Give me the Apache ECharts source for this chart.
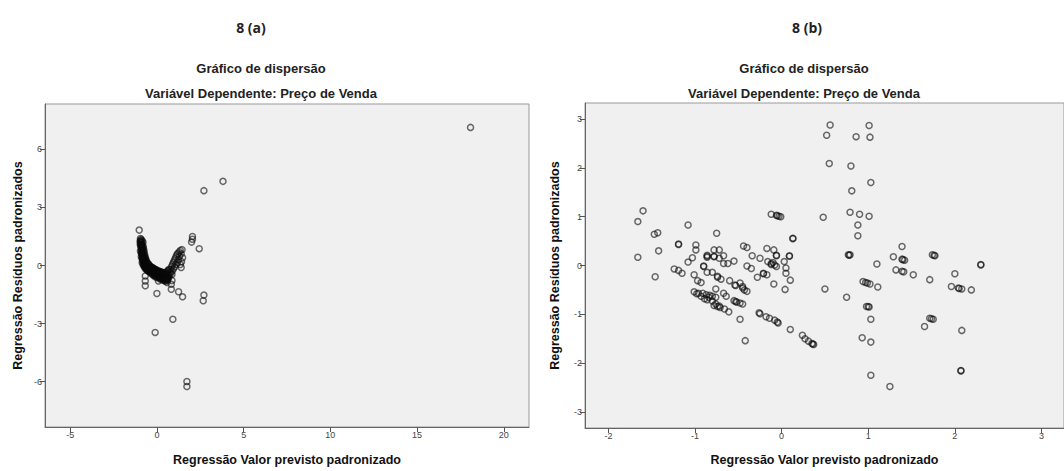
<!DOCTYPE html>
<html>
<head>
<meta charset="utf-8">
<script src="https://cdn.jsdelivr.net/npm/echarts@6/dist/echarts.min.js"></script>
<style>html,body{margin:0;padding:0;background:#fff;}#c{width:1064px;height:471px;}</style>
</head>
<body>
<div id="c"></div>
<script>
// ---- Panel (a) data: [predicted standardized value, standardized residual]
const pointsA = [
[-0.95,1.30],[-0.92,1.25],[-0.90,1.35],[-0.93,1.18],[-0.88,1.10],[-0.90,1.02],[-0.86,0.95],[-0.88,0.88],[-0.84,0.80],[-0.86,0.72],
[-0.82,0.66],[-0.80,0.58],[-0.84,0.52],[-0.78,0.48],[-0.76,0.40],[-0.80,0.35],[-0.72,0.30],[-0.74,0.22],[-0.68,0.18],[-0.70,0.10],
[-0.64,0.08],[-0.60,0.02],[-0.66,-0.02],[-0.56,-0.05],[-0.50,-0.08],[-0.54,-0.14],[-0.45,-0.12],[-0.40,-0.18],[-0.42,-0.25],[-0.35,-0.22],
[-0.30,-0.28],[-0.25,-0.25],[-0.22,-0.32],[-0.15,-0.30],[-0.10,-0.38],[-0.05,-0.35],[0.00,-0.42],[0.05,-0.40],[0.10,-0.48],[0.15,-0.44],
[0.20,-0.52],[0.25,-0.48],[0.30,-0.55],[0.35,-0.50],[0.40,-0.60],[0.45,-0.56],[0.50,-0.62],[0.55,-0.58],[0.60,-0.66],[0.65,-0.55],
[0.70,-0.48],[0.62,-0.72],[0.55,-0.80],[0.45,-0.76],[0.35,-0.70],[0.25,-0.66],[0.15,-0.60],[0.05,-0.58],[-0.05,-0.52],[-0.15,-0.45],
[-0.25,-0.40],[-0.35,-0.35],[-0.45,-0.28],[-0.55,-0.20],[-0.62,-0.12],[-0.70,-0.05],[-0.75,0.05],[-0.78,0.15],[-0.82,0.28],[-0.85,0.42],
[-0.88,0.60],[-0.90,0.78],[-0.92,0.95],[-0.95,1.10],[-0.97,1.22],[-0.85,1.28],[-0.80,1.20],[-0.78,0.92],[-0.74,0.70],[-0.70,0.55],
[-0.66,0.40],[-0.62,0.28],[-0.58,0.15],[-0.50,0.05],[-0.42,-0.02],[-0.35,-0.10],[-0.28,-0.15],[-0.20,-0.20],[-0.12,-0.22],[-0.02,-0.28],
[0.08,-0.32],[0.18,-0.38],[0.28,-0.42],[0.38,-0.45],[0.48,-0.48],[0.58,-0.45],
[-0.95,1.40],[-0.95,1.05],[-0.95,0.75],[-0.90,1.20],[-0.90,0.65],[-0.90,0.45],[-0.85,1.10],[-0.85,0.90],[-0.85,0.60],[-0.85,0.35],
[-0.85,0.15],[-0.80,1.00],[-0.80,0.75],[-0.80,0.50],[-0.80,0.22],[-0.80,0.05],[-0.75,0.80],[-0.75,0.60],[-0.75,0.30],[-0.75,0.10],
[-0.75,-0.02],[-0.70,0.45],[-0.70,0.25],[-0.70,0.00],[-0.70,-0.10],[-0.65,0.30],[-0.65,0.12],[-0.65,-0.08],[-0.65,-0.18],[-0.60,0.20],
[-0.60,-0.05],[-0.60,-0.20],[-0.55,0.12],[-0.55,-0.10],[-0.55,-0.25],[-0.50,0.10],[-0.50,-0.15],[-0.50,-0.28],[-0.45,0.02],[-0.45,-0.20],
[-0.45,-0.32],[-0.40,-0.05],[-0.40,-0.30],[-0.35,-0.05],[-0.35,-0.28],[-0.35,-0.40],[-0.30,-0.12],[-0.30,-0.35],[-0.25,-0.10],[-0.25,-0.30],
[-0.25,-0.45],[-0.20,-0.15],[-0.20,-0.40],[-0.20,-0.52],[-0.15,-0.18],[-0.15,-0.35],[-0.15,-0.50],[-0.10,-0.20],[-0.10,-0.45],[-0.10,-0.58],
[-0.05,-0.22],[-0.05,-0.40],[0.00,-0.25],[0.00,-0.50],[0.00,-0.62],[0.05,-0.30],[0.05,-0.55],[0.10,-0.28],[0.10,-0.40],[0.10,-0.60],
[0.15,-0.30],[0.15,-0.55],[0.15,-0.68],[0.20,-0.35],[0.20,-0.62],[0.25,-0.32],[0.25,-0.58],[0.25,-0.72],[0.30,-0.38],[0.30,-0.65],
[0.35,-0.36],[0.35,-0.60],[0.35,-0.75],[0.40,-0.40],[0.40,-0.70],[0.45,-0.42],[0.45,-0.66],[0.45,-0.80],[0.50,-0.38],[0.50,-0.72],
[0.55,-0.35],[0.55,-0.65],[0.60,-0.30],[0.60,-0.55],[0.60,-0.75],[0.65,-0.25],[0.65,-0.68],[0.70,-0.20],[0.70,-0.60],
[0.75,-0.35],[0.80,-0.20],[0.85,-0.05],[0.90,0.05],[0.95,0.15],[1.00,0.25],[1.05,0.35],[1.10,0.45],[1.15,0.55],[1.20,0.62],
[1.28,0.70],[1.35,0.78],[1.45,0.82],[1.40,0.60],[1.30,0.48],[1.25,0.30],[1.18,0.15],[1.10,0.05],[1.02,-0.08],[0.95,-0.18],
[0.88,-0.28],[0.80,-0.40],[1.48,0.40],[1.42,0.20],[1.35,0.05],[1.40,-0.10],
[0.87,-0.46],[0.87,-0.77],[0.83,-0.97],[0.58,-0.88],[0.09,-0.80],[-0.67,-0.54],[-0.67,-0.80],[-0.67,-1.05],[0.00,-1.45],[0.83,-1.23],
[1.25,-1.36],[1.48,-1.62],
[-1.02,1.83],[2.05,1.50],[2.05,1.36],[2.00,1.21],[2.44,0.87],[2.71,3.87],[3.81,4.35],[18.08,7.14],[2.71,-1.53],[2.67,-1.82],
[0.92,-2.78],[-0.10,-3.46],[1.73,-6.00],[1.73,-6.26]
];

// ---- Panel (b) data
const pointsB = [
[-1.60,1.12],[-1.66,0.90],[-1.66,0.17],[-1.47,0.64],[-1.43,0.67],[-1.42,0.30],[-1.46,-0.23],[-1.08,0.83],[-1.19,0.44],[-1.19,0.43],
[-1.24,-0.07],[-1.19,-0.10],[-1.15,-0.16],[-1.08,0.07],[-1.03,0.16],[-0.99,0.42],[-0.99,0.32],[-1.01,-0.19],[-0.97,-0.31],[-0.93,-0.35],
[-0.90,-0.01],[-0.90,-0.02],[-0.86,0.21],[-0.86,0.17],[-0.86,0.19],[-0.75,0.66],[-0.78,0.32],[-0.72,0.32],[-0.78,0.18],[-0.72,0.15],
[-0.67,0.20],[-0.67,0.04],[-0.62,0.04],[-0.78,0.19],[-0.86,-0.14],[-0.80,-0.14],[-0.74,-0.22],[-0.70,-0.28],[-0.74,-0.24],[-0.55,0.09],
[-0.60,-0.31],[-0.53,-0.41],[-0.48,-0.36],[-0.45,-0.46],[-0.40,-0.53],[-0.54,-0.40],[-0.45,-0.43],[-0.43,-0.50],[-0.44,0.40],[-0.40,0.37],
[-0.34,0.20],[-0.40,-0.01],[-0.35,-0.06],[-0.25,0.15],[-0.28,-0.24],[-0.21,-0.16],[-0.17,-0.19],[-0.21,-0.17],[-0.17,0.35],[-0.16,0.08],
[-0.12,0.02],[-0.10,0.06],[-0.08,0.01],[-0.12,0.04],[-0.09,0.32],[-0.06,0.20],[-0.06,0.21],[-0.06,-0.02],[-0.09,-0.38],[-0.12,1.05],
[-0.06,1.03],[-0.03,1.01],[-0.01,1.00],[-0.05,1.02],[0.03,0.08],[0.05,-0.05],[0.05,-0.16],[0.10,-0.30],[0.04,-0.49],[0.09,0.20],
[0.09,0.19],[0.13,0.56],[0.13,0.55],
[-1.01,-0.54],[-0.96,-0.57],[-0.91,-0.57],[-0.87,-0.60],[-0.83,-0.61],[-0.80,-0.63],[-0.76,-0.65],[-0.93,-0.63],[-0.89,-0.68],[-0.86,-0.70],
[-0.80,-0.73],[-0.76,-0.79],[-0.74,-0.84],[-0.71,-0.86],[-0.66,-0.89],[-0.61,-0.95],[-0.98,-0.58],[-0.84,-0.65],[-0.78,-0.82],[-0.72,-0.83],
[-0.76,-0.48],[-0.67,-0.57],[-0.64,-0.63],[-0.55,-0.72],[-0.52,-0.75],[-0.48,-0.77],[-0.45,-0.79],[-0.53,-0.74],[-0.48,-1.10],[-0.42,-1.54],
[-0.26,-0.97],[-0.25,-0.99],[-0.18,-1.05],[-0.14,-1.08],[-0.08,-1.12],[-0.05,-1.16],[-0.04,-1.18],[0.10,-1.31],[0.24,-1.43],[0.27,-1.50],
[0.31,-1.55],[0.35,-1.60],[0.37,-1.62],[0.36,-1.61],[0.50,-0.48],
[0.56,2.88],[0.52,2.67],[1.01,2.87],[0.86,2.64],[1.02,2.63],[0.55,2.09],[0.80,2.04],[1.03,1.70],[0.81,1.53],[0.48,0.99],
[0.79,1.09],[0.90,1.05],[1.01,1.01],[0.88,0.83],[0.88,0.61],[0.77,0.22],[0.79,0.22],[0.78,0.21],[1.10,0.03],[0.94,-0.33],
[0.97,-0.35],[0.99,-0.36],[1.02,-0.38],[1.11,-0.44],[0.75,-0.65],[0.98,-0.84],[1.00,-0.84],[1.01,-0.85],[1.03,-1.10],[0.93,-1.48],
[1.03,-1.57],[1.03,-2.25],[1.25,-2.48],[1.39,0.39],[1.29,0.18],[1.39,0.13],[1.42,0.11],[1.40,0.12],[1.32,-0.09],[1.39,-0.12],
[1.41,-0.13],[1.52,-0.19],[1.71,-0.29],[1.74,0.22],[1.77,0.20],[1.76,0.21],[1.65,-1.25],[1.71,-1.08],[1.75,-1.10],[1.73,-1.09],
[2.00,-0.17],[1.96,-0.43],[2.04,-0.46],[2.08,-0.48],[2.19,-0.50],[2.05,-0.47],[2.30,0.01],[2.30,0.02],[2.08,-1.33],[2.07,-2.15],
[2.07,-2.16]
];

// ---- tick labels
const xTicksA = [-5, 0, 5, 10, 15, 20];
const yTicksA = [-6, -3, 0, 3, 6];
const xTicksB = [-2, -1, 0, 1, 2, 3];
const yTicksB = [-3, -2, -1, 0, 1, 2, 3];

const panelLabels = ['8 (a)', '8 (b)'];
const chartTitle = 'Gráfico de dispersão';
const chartSubtitle = 'Variável Dependente: Preço de Venda';
const xName = 'Regressão Valor previsto padronizado';
const yName = 'Regressão Resíduos padronizados';

const chart = echarts.init(document.getElementById('c'), null, {renderer: 'svg'});

function axisCommon(ticks) {
  return {
    type: 'value',
    splitLine: {show: false},
    axisLine: {show: true, onZero: false, lineStyle: {color: '#666', width: 1}},
    axisTick: {show: true, length: 5, lineStyle: {color: '#555'}, customValues: ticks},
    axisLabel: {show: true, color: '#444', fontSize: 9, fontFamily: 'Liberation Sans', margin: 3, customValues: ticks},
    nameLocation: 'middle',
    nameTextStyle: {color: '#111', fontSize: 12.5, fontWeight: 'bold', fontFamily: 'Liberation Sans'}
  };
}

const titleFont = 'bold 13px "Liberation Sans"';
const panelFont = 'bold 14px "Open Sans"';

function txt(x, y, text, font) {
  return {type: 'text', x: x, y: y, style: {text: text, font: font, fill: '#222', textAlign: 'center', textVerticalAlign: 'middle'}};
}

const symbolStyle = {color: 'rgba(0,0,0,0)', borderColor: 'rgba(10,10,10,0.75)', borderWidth: 1.5};

chart.setOption({
  animation: false,
  backgroundColor: '#fff',
  graphic: [
    txt(251, 27, panelLabels[0], panelFont),
    txt(261, 68, chartTitle, titleFont),
    txt(261, 93, chartSubtitle, titleFont),
    txt(807, 27, panelLabels[1], panelFont),
    txt(804, 68, chartTitle, titleFont),
    txt(804, 93, chartSubtitle, titleFont)
  ],
  grid: [
    {left: 45, top: 104, width: 484, height: 326, show: true, backgroundColor: '#f0f0f0', borderColor: '#999', borderWidth: 1},
    {left: 585, top: 103, width: 490, height: 327, show: true, backgroundColor: '#f0f0f0', borderColor: '#999', borderWidth: 1}
  ],
  xAxis: [
    Object.assign(axisCommon(xTicksA), {gridIndex: 0, min: -6.45, max: 21.45, name: xName, nameGap: 26}),
    Object.assign(axisCommon(xTicksB), {gridIndex: 1, min: -2.27, max: 3.26, name: xName, nameGap: 25})
  ],
  yAxis: [
    Object.assign(axisCommon(yTicksA), {gridIndex: 0, min: -8.35, max: 8.35, name: yName, nameGap: 21}),
    Object.assign(axisCommon(yTicksB), {gridIndex: 1, min: -3.33, max: 3.33, name: yName, nameGap: 24})
  ],
  series: [
    {type: 'scatter', xAxisIndex: 0, yAxisIndex: 0, data: pointsA, symbol: 'circle', symbolSize: 6, itemStyle: symbolStyle, silent: true},
    {type: 'scatter', xAxisIndex: 1, yAxisIndex: 1, data: pointsB, symbol: 'circle', symbolSize: 6, itemStyle: symbolStyle, silent: true}
  ]
});
</script>
</body>
</html>
